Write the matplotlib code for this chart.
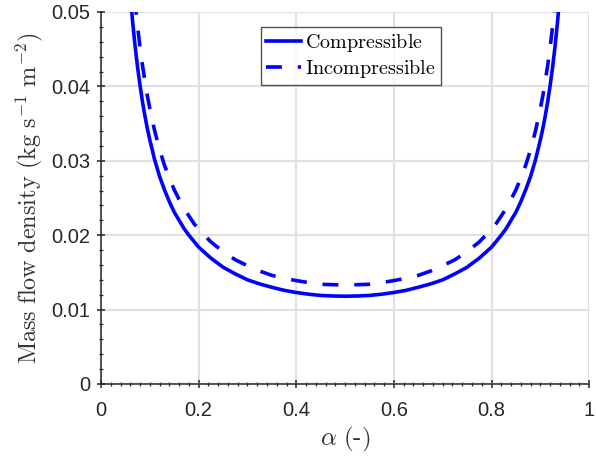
import numpy as np
import matplotlib
matplotlib.use('Agg')
import matplotlib.pyplot as plt
from matplotlib.ticker import MultipleLocator

plt.rcParams['mathtext.fontset'] = 'cm'
plt.rcParams['font.family'] = ['Liberation Sans', 'DejaVu Sans']

# void fraction
alpha = [0.06, 0.065, 0.07, 0.075, 0.08, 0.085, 0.09, 0.095, 0.10, 0.11, 0.12, 0.13,
         0.14, 0.15, 0.16, 0.17, 0.18, 0.19, 0.20, 0.225, 0.25, 0.275, 0.30, 0.325,
         0.35, 0.375, 0.40, 0.425, 0.45, 0.475, 0.50,
         0.525, 0.55, 0.575, 0.60, 0.625, 0.65, 0.675, 0.70, 0.725, 0.75, 0.775,
         0.80, 0.81, 0.82, 0.83, 0.84, 0.85, 0.86, 0.87, 0.88, 0.89, 0.90, 0.905,
         0.91, 0.915, 0.92, 0.925, 0.93, 0.935, 0.94]

# mass flow density (kg s^-1 m^-2)
compressible = [0.0523, 0.0485, 0.0453, 0.0425, 0.0401, 0.0379, 0.0360, 0.0343, 0.0328,
                0.0301, 0.0279, 0.0261, 0.0245, 0.0231, 0.0220, 0.0209, 0.0200, 0.0192,
                0.0184, 0.01692, 0.0157, 0.01480, 0.0140, 0.01345, 0.0130, 0.01259,
                0.0123, 0.01207, 0.0119, 0.01183, 0.0118,
                0.01183, 0.0119, 0.01207, 0.0123, 0.01259, 0.0130, 0.01345, 0.0140,
                0.01480, 0.0157, 0.01692, 0.0184, 0.0192, 0.0200, 0.0209, 0.0220,
                0.0231, 0.0245, 0.0261, 0.0279, 0.0301, 0.0328, 0.0343, 0.0360, 0.0379,
                0.0401, 0.0425, 0.0453, 0.0485, 0.0523]
incompressible = [0.0590, 0.0548, 0.0512, 0.0480, 0.0452, 0.0428, 0.0407, 0.0387, 0.0370,
                  0.0340, 0.0315, 0.0294, 0.0277, 0.0261, 0.0248, 0.0236, 0.0226, 0.0216,
                  0.0208, 0.01910, 0.0178, 0.01670, 0.0159, 0.01518, 0.0146, 0.01421,
                  0.0139, 0.01363, 0.0134, 0.01335, 0.0133,
                  0.01335, 0.0134, 0.01363, 0.0139, 0.01421, 0.0146, 0.01518, 0.0159,
                  0.01670, 0.0178, 0.01910, 0.0208, 0.0216, 0.0226, 0.0236, 0.0248,
                  0.0261, 0.0277, 0.0294, 0.0315, 0.0340, 0.0370, 0.0387, 0.0407, 0.0428,
                  0.0452, 0.0480, 0.0512, 0.0548, 0.0590]

fig = plt.figure(figsize=(5.96, 4.59), dpi=100)
ax = fig.add_axes([0.1695, 0.1634, 0.819, 0.8105])

ax.plot(alpha, compressible, color='#0000ff', lw=2.6,
        label=r'$\mathrm{Compressible}$')
ax.plot(alpha, incompressible, color='#0000ff', lw=2.6, ls=(0, (4.4, 4.4)),
        label=r'$\mathrm{Incompressible}$')

ax.set_xlim(0, 1)
ax.set_ylim(0, 0.05)
ax.set_xticks([0, 0.2, 0.4, 0.6, 0.8, 1])
ax.set_xticklabels(['0', '0.2', '0.4', '0.6', '0.8', '1'])
ax.set_yticks([0, 0.01, 0.02, 0.03, 0.04, 0.05])
ax.set_yticklabels(['0', '0.01', '0.02', '0.03', '0.04', '0.05'])
ax.xaxis.set_minor_locator(MultipleLocator(0.02))
ax.yaxis.set_minor_locator(MultipleLocator(0.002))
ax.tick_params(which='both', direction='inout', colors='#262626', labelsize=14.5)
ax.tick_params(which='major', length=6, width=1.1, pad=5)
ax.tick_params(axis='x', which='major', pad=9)
ax.tick_params(which='minor', length=3.5, width=0.9)
ax.grid(True, which='major', color='#e0e0e0', lw=1.5)
ax.set_axisbelow(True)

for s in ['top', 'right']:
    ax.spines[s].set_visible(False)
for s in ['left', 'bottom']:
    ax.spines[s].set_color('#262626')
    ax.spines[s].set_linewidth(1.1)

ax.set_xlabel(r'$\alpha\ \mathrm{(\text{-})}$', fontsize=18, color='#333333', labelpad=4)
ax.set_ylabel(r'$\mathrm{Mass\ flow\ density\ (kg\ s^{-1}\ m^{-2})}$', fontsize=17.5,
              color='#333333', labelpad=4)

leg = ax.legend(loc='upper left', bbox_to_anchor=(0.328, 0.96), fontsize=14.5,
                frameon=True, fancybox=False, edgecolor='#262626',
                handlelength=1.75, handletextpad=0.2, borderpad=0.25,
                labelspacing=0.2, borderaxespad=0)
leg.get_frame().set_linewidth(1.0)

fig.savefig('out.png', dpi=100)
